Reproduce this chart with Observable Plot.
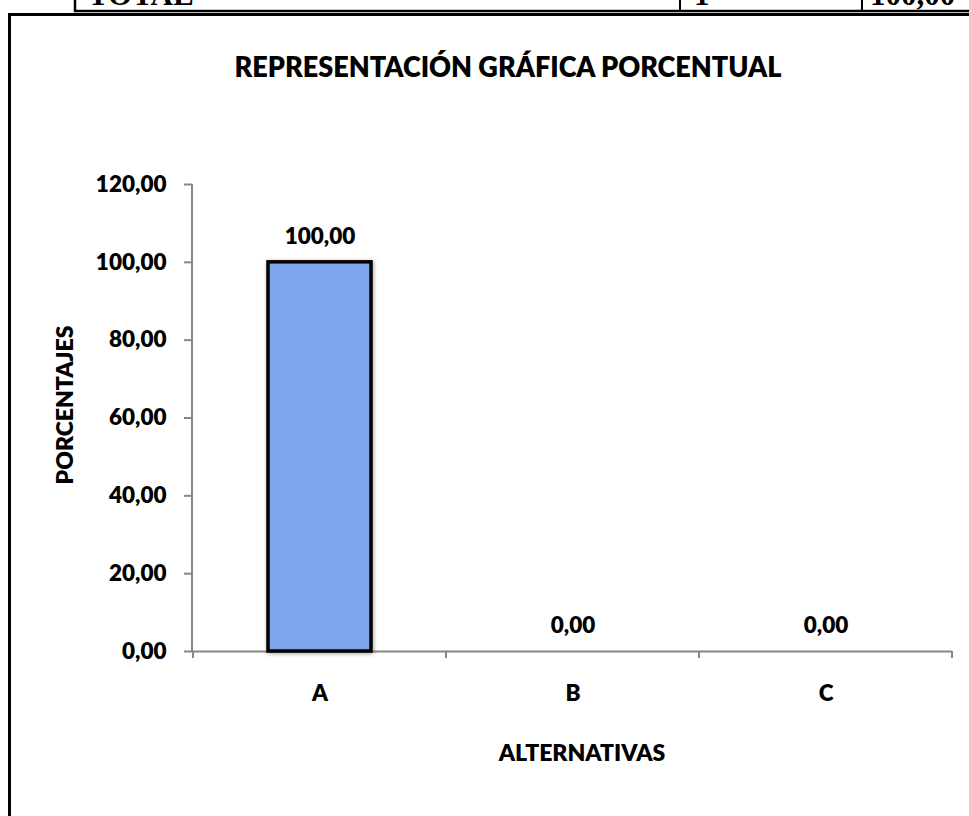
<!DOCTYPE html>
<html>
<head>
<meta charset="utf-8">
<script src="https://cdn.jsdelivr.net/npm/d3@7"></script>
<script src="https://cdn.jsdelivr.net/npm/@observablehq/plot@0.6"></script>
<style>
  html, body { margin: 0; padding: 0; background: #fff; }
  #wrap { position: relative; width: 969px; height: 816px; overflow: hidden; background: #fff; }
  #plot, #deco { position: absolute; left: 0; top: 0; }
</style>
</head>
<body>
<div id="wrap">
  <div id="plot"></div>
  <svg id="deco" width="969" height="816"></svg>
</div>
<script>
// ---- data ----
const categories = ["A", "B", "C"];
const percentages = [100, 0, 0];
const yTicks = [0, 20, 40, 60, 80, 100, 120];
const tableRow = ["TOTAL", "1", "100,00"];
const chartTitle = "REPRESENTACIÓN GRÁFICA PORCENTUAL";
const xTitle = "ALTERNATIVAS";
const yTitle = "PORCENTAJES";

const data = categories.map((c, i) => ({alt: c, pct: percentages[i]}));
const fmt = v => v.toFixed(2).replace(".", ",");
const FONT = "Lato, 'Open Sans', sans-serif";
const W = 800;

const plot = Plot.plot({
  width: 969,
  height: 816,
  marginLeft: 192,
  marginRight: 17,
  marginTop: 184,
  marginBottom: 165,
  style: {background: "transparent", fontFamily: FONT, fontSize: "22.5px", fontWeight: W, color: "#000", overflow: "visible"},
  x: {domain: categories, padding: 0, label: null},
  y: {domain: [0, 120], label: null},
  marks: [
    Plot.axisY({ticks: yTicks, tickFormat: fmt, tickSize: 8, tickPadding: 18, stroke: "#868686", strokeWidth: 2, fill: "#000", label: null}),
    Plot.axisX({tickSize: 0, tickPadding: 34, fill: "#000", label: null}),
    Plot.ruleY([0], {stroke: "#868686", strokeWidth: 2}),
    Plot.barY(data, {x: "alt", y: "pct", fill: "#7ea4ee", stroke: "#000", strokeWidth: 3.5, insetLeft: 75, insetRight: 75}),
    Plot.text(data, {x: "alt", y: "pct", text: d => fmt(d.pct), dy: -26, fill: "#000", fontWeight: W})
  ]
});
document.getElementById("plot").appendChild(plot);

// axis line and category-boundary ticks using the plot's own scales
const xs = plot.scale("x");
const ys = plot.scale("y");
const svgP = d3.select(plot);
svgP.selectAll("rect").style("filter", "drop-shadow(1px 1px 2px rgba(0,0,0,0.35))");
const g = svgP.append("g").attr("stroke", "#868686").attr("stroke-width", 2);
g.append("line").attr("x1", xs.range[0]).attr("x2", xs.range[0])
  .attr("y1", ys.apply(0)).attr("y2", ys.apply(120));
const bounds = categories.map(c => xs.apply(c)).concat([xs.apply(categories[categories.length - 1]) + xs.step]);
bounds.forEach(b => {
  g.append("line").attr("x1", b).attr("x2", b).attr("y1", ys.apply(0)).attr("y2", ys.apply(0) + 7);
});

// ---- decoration: frame, table row, titles ----
const deco = d3.select("#deco");
// table row fragment at top
deco.append("rect").attr("x", 75).attr("y", -40).attr("width", 1000).attr("height", 51)
  .attr("fill", "none").attr("stroke", "#000").attr("stroke-width", 2.5);
[680, 862].forEach(x => deco.append("line").attr("x1", x).attr("x2", x).attr("y1", -40).attr("y2", 11)
  .attr("stroke", "#000").attr("stroke-width", 2));
const tfont = "'Liberation Serif', 'Times New Roman', serif";
deco.append("text").attr("x", 88).attr("y", 5).attr("font-family", tfont).attr("font-weight", "bold")
  .attr("font-size", 31).text(tableRow[0]);
deco.append("text").attr("x", 694).attr("y", 5).attr("font-family", tfont).attr("font-weight", "bold")
  .attr("font-size", 31).text(tableRow[1]);
deco.append("text").attr("x", 870).attr("y", 5).attr("font-family", tfont).attr("font-weight", "bold")
  .attr("font-size", 31).text(tableRow[2]);
// chart frame
deco.append("rect").attr("x", 9.5).attr("y", 14.5).attr("width", 1100).attr("height", 1000)
  .attr("fill", "none").attr("stroke", "#000").attr("stroke-width", 3);
// title
deco.append("text").attr("x", 508).attr("y", 77).attr("text-anchor", "middle")
  .attr("font-family", FONT).attr("font-weight", W).attr("font-size", 29)
  .attr("textLength", 547).attr("lengthAdjust", "spacingAndGlyphs").text(chartTitle);
// x title
deco.append("text").attr("x", 582).attr("y", 761).attr("text-anchor", "middle")
  .attr("font-family", FONT).attr("font-weight", W).attr("font-size", 23).text(xTitle);
// y title
deco.append("text").attr("transform", "translate(73,405) rotate(-90)").attr("text-anchor", "middle")
  .attr("font-family", FONT).attr("font-weight", W).attr("font-size", 23).text(yTitle);
</script>
</body>
</html>
